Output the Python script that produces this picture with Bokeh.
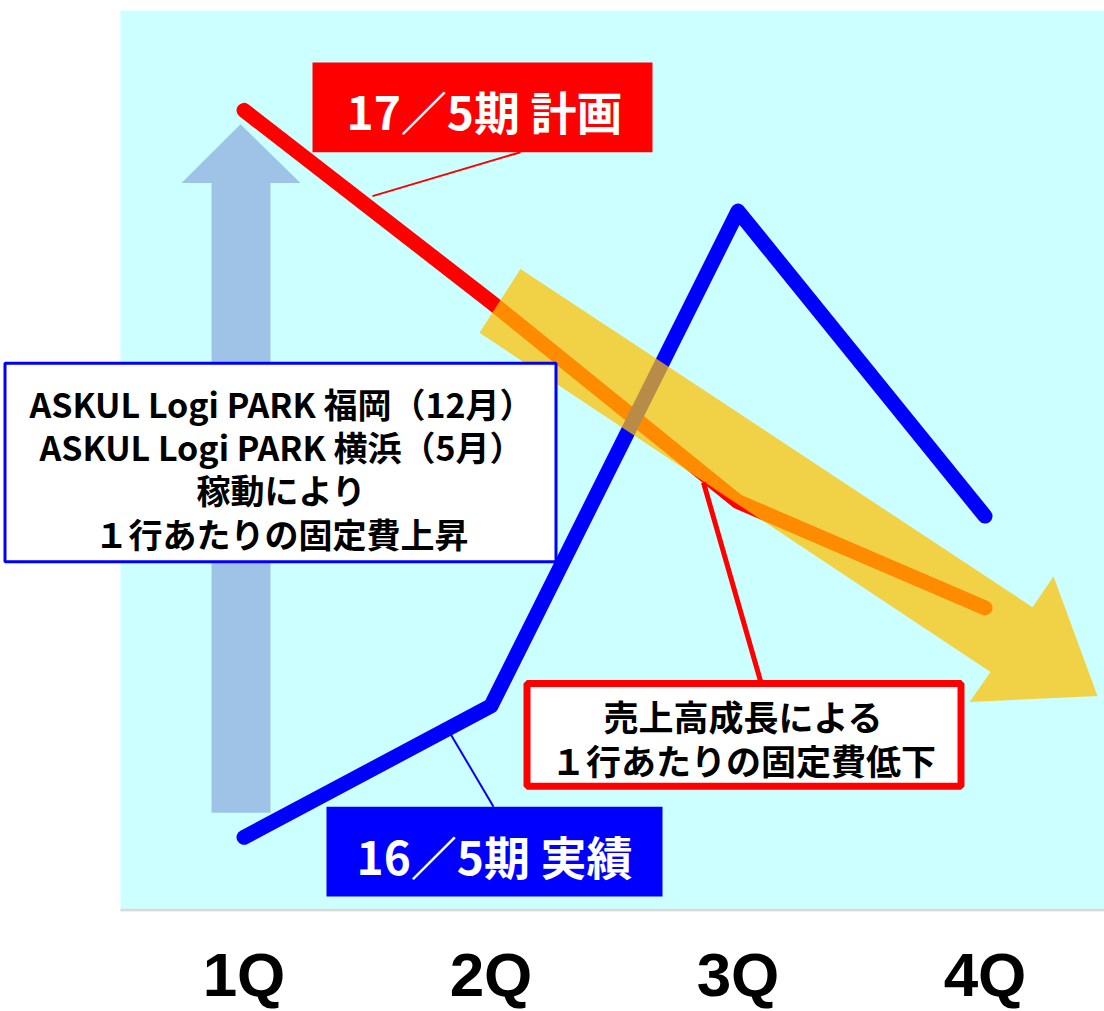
from bokeh.plotting import figure
from bokeh.models import Range1d, FixedTicker, LinearAxis
from bokeh.core.properties import value
from bokeh.embed import file_html
from bokeh.resources import INLINE

# --- data -------------------------------------------------------------
quarters = ["1Q", "2Q", "3Q", "4Q"]
quarter_pos = [1, 2, 3, 4]
plan_17 = [88.9, 67.6, 45.4, 33.6]     # 17/5期 計画
actual_16 = [8.1, 22.7, 77.7, 43.8]    # 16/5期 実績

plan_label = "17／5期 計画"
actual_label = "16／5期 実績"
rise_note = ["ASKUL Logi PARK 福岡（12月）",
             "ASKUL Logi PARK 横浜（5月）",
             "稼動により",
             "１行あたりの固定費上昇"]
fall_note = ["売上高成長による",
             "１行あたりの固定費低下"]

# --- layout helpers ---------------------------------------------------
W, H = 1104, 1011
TOP, BOTTOM = 10, 98
PLOT_LEFT = 120          # shaded plot area starts here (px)
STEP = 247               # px per quarter
X0 = 0.5 - PLOT_LEFT / STEP
X1 = X0 + W / STEP
Y0, Y1 = -0.15, 100.0
FRAME_H = H - TOP - BOTTOM


def dx(px):
    return X0 + px / STEP


def dy(py):
    return Y1 - (py - TOP) * (Y1 - Y0) / FRAME_H


def pts(seq):
    return [dx(a) for a, _ in seq], [dy(b) for _, b in seq]


JP = value("Noto Sans CJK JP")

p = figure(width=W, height=H, x_range=Range1d(X0, X1), y_range=Range1d(Y0, Y1),
           output_backend="svg", toolbar_location=None,
           min_border_left=0, min_border_right=0,
           min_border_top=TOP, min_border_bottom=BOTTOM,
           x_axis_location=None, y_axis_location=None,
           background_fill_color="white", border_fill_color="white",
           outline_line_color=None)
p.xgrid.grid_line_color = None
p.ygrid.grid_line_color = None

xaxis = LinearAxis(ticker=FixedTicker(ticks=quarter_pos),
                   major_label_overrides={k: q for k, q in zip(quarter_pos, quarters)},
                   axis_line_color=None, major_tick_line_color=None,
                   minor_tick_line_color=None, major_tick_out=0, major_tick_in=0,
                   major_label_standoff=28,
                   major_label_text_font="Liberation Sans",
                   major_label_text_font_size="62px",
                   major_label_text_font_style="bold",
                   major_label_text_color="black")
p.add_layout(xaxis, "below")

# plot area background and baseline
p.quad(left=0.5, right=X1 + 1, bottom=0, top=Y1, fill_color="#CCFFFF", line_color=None)
p.segment(x0=0.5, y0=0, x1=X1, y1=0, line_color="#D9D9D9", line_width=3)

# upward block arrow (fixed cost rise)
up_x, up_y = pts([(211, 814), (211, 183), (181, 183), (240, 124),
                  (300, 183), (270, 183), (270, 814)])
p.patch(up_x, up_y, fill_color="#9FC3E6", line_color=None)

# series lines
p.line(quarter_pos, plan_17, line_color="#FF0000", line_width=15,
       line_cap="round", line_join="round")
p.line(quarter_pos, actual_16, line_color="#0000FF", line_width=15,
       line_cap="round", line_join="round")

# translucent downward trend arrow
dn_x, dn_y = pts([(520, 269), (1032, 608), (1053, 577), (1097, 697),
                  (969, 703), (990, 673), (479, 333)])
p.patch(dn_x, dn_y, fill_color="#FFC000", fill_alpha=0.72, line_color=None)

# callout leader lines
for (a, b), col, lw in [(((372, 196), (520, 152)), "#FF0000", 2),
                        (((703, 483), (760, 682)), "#FF0000", 5),
                        (((450, 735), (493, 808)), "#0000FF", 2)]:
    p.segment(x0=dx(a[0]), y0=dy(a[1]), x1=dx(b[0]), y1=dy(b[1]),
              line_color=col, line_width=lw)

# series name tags
p.quad(left=dx(312), right=dx(652), top=dy(62), bottom=dy(152),
       fill_color="#FF0000", line_color=None)
p.quad(left=dx(326), right=dx(662), top=dy(808), bottom=dy(898),
       fill_color="#0000FF", line_color=None)
p.text(x=[dx(484), dx(494)], y=[dy(110), dy(856)], text=[plan_label, actual_label],
       text_font=JP, text_font_style="bold", text_font_size="46px",
       text_color="white", text_align="center", text_baseline="middle")

# explanation boxes
p.quad(left=dx(4.5), right=dx(555.5), top=dy(363.5), bottom=dy(562.5),
       fill_color="white", line_color="#0000FF", line_width=3)
p.text(x=[dx(281)] * len(rise_note), y=[dy(v) for v in (404, 447, 490, 534)],
       text=rise_note, text_font=JP, text_font_style="bold", text_font_size="34px",
       text_color="black", text_align="center", text_baseline="middle")

p.quad(left=dx(526.5), right=dx(960.5), top=dy(684.5), bottom=dy(787.5),
       fill_color="white", line_color="#FF0000", line_width=7)
p.text(x=[dx(743)] * len(fall_note), y=[dy(v) for v in (717, 761)],
       text=fall_note, text_font=JP, text_font_style="bold", text_font_size="35px",
       text_color="black", text_align="center", text_baseline="middle")

open("out.html", "w").write(file_html(p, INLINE))
